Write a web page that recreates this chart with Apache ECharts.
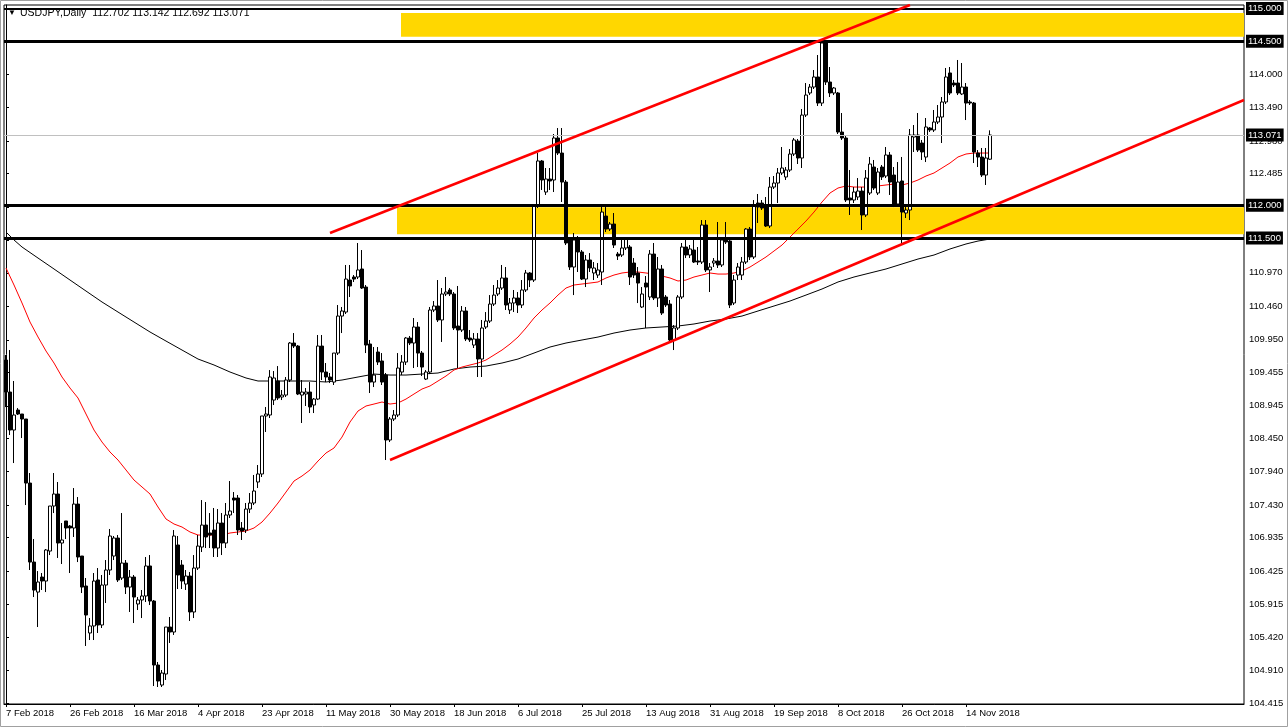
<!DOCTYPE html>
<html><head><meta charset="utf-8">
<script src="https://cdn.jsdelivr.net/npm/echarts@6/dist/echarts.min.js"></script>
<style>html,body{margin:0;padding:0;background:#fff;}#c{width:1288px;height:727px;}</style>
</head><body><div id="c"></div>
<script>
// ---------- data ----------
const symbolTitle = 'USDJPY,Daily';
const lastQuote = [112.702, 113.142, 112.692, 113.071];
const totalSlots = 310; // bars + empty right shift area
const xTickLabels = ['7 Feb 2018','26 Feb 2018','16 Mar 2018','4 Apr 2018','23 Apr 2018','11 May 2018','30 May 2018','18 Jun 2018','6 Jul 2018','25 Jul 2018','13 Aug 2018','31 Aug 2018','19 Sep 2018','8 Oct 2018','26 Oct 2018','14 Nov 2018'];
const yTickValues = [115.000,114.500,114.000,113.490,112.980,112.485,111.975,111.470,110.970,110.460,109.950,109.455,108.945,108.450,107.940,107.430,106.935,106.425,105.915,105.420,104.910,104.415];

const opens = [
109.642,109.154,108.575,108.880,108.819,108.743,107.767,106.563,106.106,106.335,
106.274,106.731,107.417,107.600,106.853,107.189,107.112,107.082,107.447,106.655,
106.198,105.482,105.589,106.290,105.604,106.213,106.442,106.655,106.929,106.320,
106.548,106.182,106.335,105.924,105.985,106.046,106.503,105.969,104.994,104.689,
104.857,105.573,105.497,106.823,106.518,106.228,106.350,105.802,106.472,106.792,
107.127,107.006,107.051,106.777,107.158,106.853,107.280,107.539,107.539,107.082,
107.051,107.371,107.463,107.783,107.905,108.789,108.804,109.032,109.322,109.078,
109.108,109.337,109.901,109.855,109.108,109.124,109.154,108.956,109.047,109.855,
109.459,109.383,109.306,109.748,110.312,110.373,110.861,110.907,110.907,111.029,
110.754,109.886,109.306,109.764,109.627,109.413,108.423,108.743,108.804,109.459,
109.611,109.977,109.901,110.145,109.748,109.352,109.459,110.404,110.465,110.252,
110.648,110.709,110.648,110.160,110.099,110.389,109.977,109.870,109.962,109.657,
110.145,110.236,110.495,110.648,110.739,110.892,110.404,110.511,110.587,110.480,
110.709,110.968,110.861,111.989,112.675,112.202,112.400,112.385,113.025,112.796,
112.354,111.471,111.059,111.471,111.288,110.876,111.166,110.968,110.937,110.983,
111.836,111.638,111.714,111.257,111.242,111.349,111.364,111.120,110.968,110.450,
110.815,110.602,111.257,110.587,111.029,110.602,110.495,109.947,110.130,110.602,
111.364,111.242,111.318,111.151,111.135,111.699,111.014,111.120,111.151,111.090,
111.471,111.455,110.511,110.937,110.937,111.135,111.638,111.212,112.034,112.034,
111.973,111.684,112.278,112.339,112.492,112.431,112.537,112.781,112.979,112.720,
113.375,113.711,113.802,113.955,113.558,114.473,113.878,113.711,113.711,113.116,
113.025,112.111,112.080,112.126,112.217,111.852,112.187,112.583,112.187,112.583,
112.446,112.766,112.461,112.019,112.370,111.882,111.928,113.040,113.071,112.949,
112.735,113.178,113.147,113.269,113.345,113.574,114.016,113.863,113.863,113.696,
113.802,113.574,113.558,112.796,112.735,112.461,112.702];

const closes = [
109.154,108.575,108.804,108.819,108.743,107.767,106.563,106.136,106.259,106.274,
106.747,107.417,107.600,106.853,106.899,107.082,107.082,107.447,106.640,106.182,
105.756,105.589,106.274,105.604,106.213,106.442,106.960,106.929,106.290,106.548,
106.182,106.335,106.030,105.985,106.046,106.503,105.969,104.994,104.750,104.872,
105.573,105.497,106.960,106.366,106.274,106.350,105.802,106.472,106.807,107.127,
106.945,106.975,106.777,107.158,106.853,107.280,107.341,107.508,107.051,107.036,
107.371,107.463,107.646,107.905,108.789,108.819,109.383,109.368,109.063,109.108,
109.337,109.901,109.855,109.124,109.154,109.154,108.926,109.047,109.855,109.459,
109.383,109.337,109.748,110.312,110.389,110.876,110.770,110.876,111.014,110.739,
109.870,109.306,109.413,109.611,109.306,108.423,108.743,108.804,109.520,109.611,
109.977,109.901,110.145,109.748,109.535,109.459,110.404,110.465,110.252,110.648,
110.678,110.648,110.130,110.099,110.389,109.962,109.947,109.962,109.657,110.130,
110.236,110.495,110.632,110.739,110.892,110.480,110.511,110.587,110.480,110.709,
110.968,110.861,111.989,112.675,112.385,112.400,112.370,113.025,112.796,112.354,
111.425,111.059,111.471,111.288,110.876,111.166,111.044,111.044,111.014,111.897,
111.638,111.714,111.394,111.227,111.349,111.486,110.907,110.937,110.815,110.648,
110.754,111.257,110.587,111.029,110.358,110.480,109.947,110.130,110.602,111.364,
111.242,111.334,111.135,111.135,111.699,111.014,111.059,111.151,111.090,111.471,
111.440,110.480,110.861,111.059,111.135,111.638,111.212,112.004,111.973,111.958,
111.684,112.278,112.339,112.492,112.568,112.537,112.781,112.995,112.720,113.375,
113.680,113.802,113.955,113.558,114.473,113.878,113.711,113.787,113.116,113.025,
112.080,112.080,112.202,112.217,111.852,112.415,112.629,112.263,112.507,112.431,
112.766,112.354,112.004,112.354,111.897,111.928,113.071,113.071,112.842,112.812,
113.193,113.147,113.269,113.345,113.574,113.955,113.711,113.833,113.711,113.802,
113.558,113.558,112.812,112.735,112.461,112.720,113.071];

const lows = [
108.925,108.499,108.072,108.804,108.453,107.432,106.442,106.030,105.573,106.137,
106.106,106.670,107.310,106.625,106.533,106.914,106.396,106.945,106.563,106.091,
105.284,105.375,105.375,105.482,105.558,105.939,106.366,106.594,106.259,106.290,
106.076,105.802,105.634,105.832,105.710,105.954,105.908,104.674,104.659,104.659,
104.766,105.330,105.452,106.152,106.152,106.137,105.665,105.710,106.442,106.716,
106.777,106.777,106.640,106.640,106.670,106.777,107.234,107.310,106.975,106.899,
107.006,107.310,107.432,107.691,107.859,108.545,108.758,108.956,109.032,109.032,
109.078,109.306,109.825,109.108,108.682,108.941,108.834,108.834,109.032,109.337,
109.306,109.291,109.261,109.718,110.053,110.343,110.602,110.831,110.876,110.724,
109.748,109.139,109.230,109.566,109.261,108.118,108.392,108.712,108.773,109.413,
109.566,109.870,109.520,109.535,109.398,109.337,109.428,110.373,110.221,109.917,
110.617,110.617,110.099,109.520,110.069,109.931,109.917,109.825,109.383,109.383,
110.115,110.206,110.465,110.617,110.709,110.404,110.343,110.373,110.358,110.434,
110.678,110.754,110.831,111.958,112.233,112.157,112.233,112.202,112.766,112.050,
111.394,111.014,110.632,110.983,110.861,110.754,110.983,110.861,110.892,110.785,
111.593,111.608,111.349,111.166,111.212,111.318,110.785,110.892,110.510,110.434,
110.130,110.556,110.556,110.450,110.328,110.450,109.917,109.794,110.099,110.571,
111.196,111.196,111.120,111.090,111.105,110.983,110.678,111.059,111.044,111.059,
111.410,110.434,110.480,110.861,110.861,111.105,111.166,111.181,111.730,111.928,
111.669,111.653,112.248,112.034,112.461,112.385,112.507,112.751,112.629,112.568,
113.345,113.680,113.772,113.513,113.513,113.833,113.650,113.680,113.086,112.995,
112.050,111.852,112.034,112.080,111.623,111.821,112.157,112.233,112.157,112.385,
112.415,112.157,111.973,112.004,111.425,111.806,111.775,112.812,112.812,112.690,
112.659,113.117,113.117,113.238,112.949,113.543,113.680,113.802,113.680,113.680,
113.299,113.528,112.644,112.583,112.431,112.309,112.692];

const highs = [
109.718,109.794,109.322,108.910,108.819,108.743,107.920,106.914,106.426,106.396,
106.762,107.417,107.920,107.783,107.158,107.189,107.127,107.691,107.554,106.655,
106.320,105.711,106.396,106.472,106.366,106.594,107.067,106.960,106.975,107.310,
106.594,106.442,106.366,106.030,106.137,106.640,106.670,105.985,105.040,104.918,
105.573,105.726,107.051,106.960,106.594,106.442,106.411,106.670,106.975,107.508,
107.478,107.310,107.387,107.371,107.310,107.463,107.798,107.630,107.585,107.173,
107.463,107.615,107.890,108.042,108.789,108.926,109.489,109.474,109.550,109.185,
109.383,109.916,110.053,109.870,109.337,109.215,109.306,109.063,110.023,110.023,
109.596,109.444,109.748,110.480,110.450,111.090,111.090,110.937,111.425,111.318,
110.785,109.947,109.840,109.840,109.748,109.444,108.773,108.880,109.748,109.718,
109.992,110.008,110.282,110.221,109.779,109.489,110.450,110.541,110.861,110.739,
110.907,110.739,110.678,110.770,110.465,110.450,110.099,110.053,110.053,110.252,
110.373,110.632,110.785,110.861,111.090,111.059,110.587,110.709,110.678,110.861,
111.014,110.983,112.004,112.796,112.690,112.568,112.568,113.086,113.177,113.177,
112.385,111.501,111.577,111.532,111.318,111.242,111.272,111.135,111.120,112.004,
111.973,111.745,111.882,111.288,111.486,111.516,111.394,111.196,111.059,110.754,
110.922,111.318,111.425,111.212,111.090,110.632,110.556,110.175,110.632,111.425,
111.471,111.394,111.486,111.364,111.775,111.775,111.120,111.196,111.745,111.516,
111.745,111.471,110.937,111.120,111.212,111.653,111.669,112.080,112.172,112.080,
112.126,112.431,112.446,112.568,112.888,112.583,112.857,113.025,113.010,113.467,
113.863,113.848,114.061,114.290,114.518,114.518,114.107,113.802,113.726,113.406,
113.056,112.537,112.278,112.415,112.278,112.537,112.736,112.690,112.568,112.614,
112.888,112.812,112.583,112.659,112.736,112.004,113.162,113.223,113.406,112.995,
113.330,113.193,113.452,113.528,113.650,114.092,114.107,113.909,114.214,114.168,
113.863,113.604,113.574,112.842,112.873,112.873,113.142];

// moving averages: [bar index, price]
const maFast = [[0,111.044],[2,110.785],[4,110.511],[6,110.221],[8,109.993],[10,109.779],[12,109.596],[14,109.383],[16,109.215],[18,109.063],[20,108.819],[22,108.575],[24,108.392],[26,108.240],[28,108.118],[30,107.966],[32,107.813],[34,107.707],[36,107.600],[38,107.402],[40,107.219],[42,107.143],[44,107.097],[46,107.021],[48,106.975],[50,106.975],[54,106.975],[56,107.006],[58,107.021],[60,107.036],[62,107.082],[64,107.173],[66,107.310],[68,107.463],[70,107.630],[72,107.798],[74,107.874],[76,107.966],[78,108.103],[80,108.225],[82,108.301],[84,108.468],[86,108.697],[88,108.865],[90,108.941],[92,108.971],[94,109.002],[96,108.971],[98,108.987],[100,109.047],[102,109.124],[104,109.200],[106,109.246],[108,109.322],[110,109.398],[112,109.490],[114,109.535],[116,109.566],[118,109.596],[120,109.642],[122,109.718],[124,109.794],[126,109.886],[128,109.992],[130,110.130],[132,110.282],[134,110.404],[136,110.511],[138,110.632],[140,110.739],[142,110.785],[144,110.800],[146,110.815],[148,110.831],[150,110.892],[152,110.937],[154,110.968],[156,110.983],[158,110.983],[160,110.968],[162,110.952],[164,110.922],[166,110.892],[168,110.846],[170,110.861],[172,110.907],[174,110.937],[176,110.968],[178,110.952],[180,110.952],[182,110.968],[184,110.998],[186,111.059],[188,111.135],[190,111.212],[192,111.303],[194,111.394],[196,111.516],[198,111.638],[200,111.760],[202,111.897],[204,112.050],[206,112.187],[208,112.263],[210,112.294],[212,112.278],[214,112.278],[216,112.278],[218,112.294],[220,112.309],[222,112.324],[224,112.309],[226,112.339],[228,112.385],[230,112.446],[232,112.492],[234,112.568],[236,112.644],[238,112.736],[240,112.781],[242,112.796],[244,112.796],[246,112.796]];

const maSlow = [[0,111.593],[2,111.471],[4,111.364],[8,111.196],[12,111.029],[16,110.861],[20,110.693],[24,110.526],[28,110.373],[32,110.221],[36,110.069],[40,109.931],[44,109.794],[48,109.657],[52,109.566],[56,109.459],[60,109.368],[63,109.322],[68,109.322],[72,109.322],[76,109.322],[80,109.307],[84,109.337],[88,109.383],[92,109.428],[96,109.413],[100,109.413],[104,109.428],[108,109.444],[112,109.505],[116,109.535],[120,109.550],[124,109.596],[128,109.657],[132,109.748],[136,109.840],[140,109.901],[144,109.947],[148,109.992],[152,110.053],[156,110.099],[160,110.130],[164,110.145],[168,110.160],[172,110.191],[176,110.236],[180,110.267],[184,110.312],[188,110.389],[192,110.465],[196,110.541],[200,110.632],[204,110.724],[208,110.831],[212,110.907],[216,110.968],[220,111.029],[224,111.105],[228,111.181],[232,111.242],[236,111.334],[240,111.410],[243,111.455],[246,111.486]];

// drawn objects (in bar index / price units)
const levelLines = [115.000, 114.500, 112.000, 111.500];
const currentPrice = 113.071;
const zoneUpper = [98.75, 309.5, 114.57, 114.93];
const zoneLower = [97.75, 309.5, 111.56, 111.97];
const trendUpper = [[81, 111.577], [226, 115.052]];
const trendLower = [[96, 108.118], [309.5, 113.604]];

// ---------- build ----------
const months = ['Jan','Feb','Mar','Apr','May','Jun','Jul','Aug','Sep','Oct','Nov','Dec'];
const categories = [];
let d = new Date(Date.UTC(2018, 1, 7));
while (categories.length < totalSlots) {
  if (d.getUTCDay() !== 6) categories.push(d.getUTCDate() + ' ' + months[d.getUTCMonth()] + ' ' + d.getUTCFullYear());
  d = new Date(d.getTime() + 86400000);
}
const candleData = opens.map((o, i) => [o, closes[i], lows[i], highs[i]]);

const FONT = '"Liberation Sans", Arial, sans-serif';
function boxLabel(v) {
  const txt = v.toFixed(3);
  return {
    show: true, position: 'end', distance: 2,
    formatter: () => txt,
    color: '#fff', backgroundColor: '#000', padding: [2, 2, 1, 2],
    fontFamily: FONT, fontSize: 9.5
  };
}

const chart = echarts.init(document.getElementById('c'), null, { renderer: 'canvas' });
chart.setOption({
  animation: false,
  backgroundColor: '#fff',
  grid: { left: 4, top: 5, width: 1240, height: 699, show: true, borderColor: '#000', borderWidth: 1, backgroundColor: 'transparent' },
  xAxis: [{
    type: 'category', data: categories, boundaryGap: true,
    axisLine: { show: true, lineStyle: { color: '#000', width: 1 } },
    axisTick: { show: true, alignWithLabel: true, length: 3, interval: (i, v) => xTickLabels.includes(v), lineStyle: { color: '#000' } },
    axisLabel: { interval: (i, v) => xTickLabels.includes(v), align: 'left', color: '#000', fontFamily: FONT, fontSize: 9.5, margin: 4 },
    splitLine: { show: false }
  }, {
    type: 'value', min: -0.5, max: totalSlots - 0.5, show: false, gridIndex: 0
  }],
  yAxis: {
    type: 'value', position: 'right', min: 104.400, max: 115.052, scale: true,
    axisLine: { show: true, lineStyle: { color: '#000', width: 1 } },
    axisTick: { show: true, length: 3, customValues: yTickValues, lineStyle: { color: '#000' } },
    axisLabel: { customValues: yTickValues, formatter: v => Number(v).toFixed(3), color: '#000', fontFamily: FONT, fontSize: 9.5, margin: 5 },
    splitLine: { show: false }
  },
  graphic: [
    { type: 'rect', shape: { x: 0.5, y: 0.5, width: 1287, height: 726 }, style: { fill: 'none', stroke: '#a0a0a0', lineWidth: 1 }, silent: true },
    { type: 'text', left: 8, top: 9, style: { text: '\u25BC', fill: '#000', fontSize: 8, fontFamily: FONT } },
    { type: 'text', left: 20, top: 8, style: { text: symbolTitle + '  ' + lastQuote.map(v => v.toFixed(3)).join(' '), fill: '#000', fontSize: 10.5, fontFamily: FONT } }
  ],
  series: [
    {
      name: 'zones', type: 'line', xAxisIndex: 1, data: [], z: 1,
      markArea: {
        silent: true,
        itemStyle: { color: '#FFD700' },
        data: [
          [{ coord: [zoneUpper[0], zoneUpper[3]] }, { coord: [zoneUpper[1], zoneUpper[2]] }],
          [{ coord: [zoneLower[0], zoneLower[3]] }, { coord: [zoneLower[1], zoneLower[2]] }]
        ]
      }
    },
    {
      name: 'levels', type: 'line', xAxisIndex: 1, data: [], z: 2,
      markLine: {
        silent: true, symbol: ['none', 'none'], symbolSize: 0, animation: false,
        data: [
          { yAxis: currentPrice, symbol: 'none', lineStyle: { color: '#c0c0c0', width: 1, type: 'solid' }, label: boxLabel(currentPrice) },
          ...levelLines.map(v => ({ yAxis: v, symbol: 'none', lineStyle: { color: '#000', width: v === 115 ? 2 : 3, type: 'solid' }, label: boxLabel(v) }))
        ]
      }
    },
    {
      name: 'MA slow', type: 'line', xAxisIndex: 1, data: maSlow, symbol: 'none', smooth: false,
      lineStyle: { color: '#000', width: 1 }, z: 3
    },
    {
      name: 'MA fast', type: 'line', xAxisIndex: 1, data: maFast, symbol: 'none', smooth: false,
      lineStyle: { color: '#ff0000', width: 1 }, z: 3
    },
    {
      name: 'USDJPY', type: 'candlestick', xAxisIndex: 0, data: candleData, barWidth: 3, z: 4,
      itemStyle: { color: '#fff', color0: '#000', borderColor: '#000', borderColor0: '#000', borderWidth: 1 }
    },
    {
      name: 'trend upper', type: 'line', xAxisIndex: 1, data: trendUpper, symbol: 'none',
      lineStyle: { color: '#ff0000', width: 2.5 }, z: 5
    },
    {
      name: 'trend lower', type: 'line', xAxisIndex: 1, data: trendLower, symbol: 'none',
      lineStyle: { color: '#ff0000', width: 2.5 }, z: 5
    }
  ]
});
</script>
</body></html>
